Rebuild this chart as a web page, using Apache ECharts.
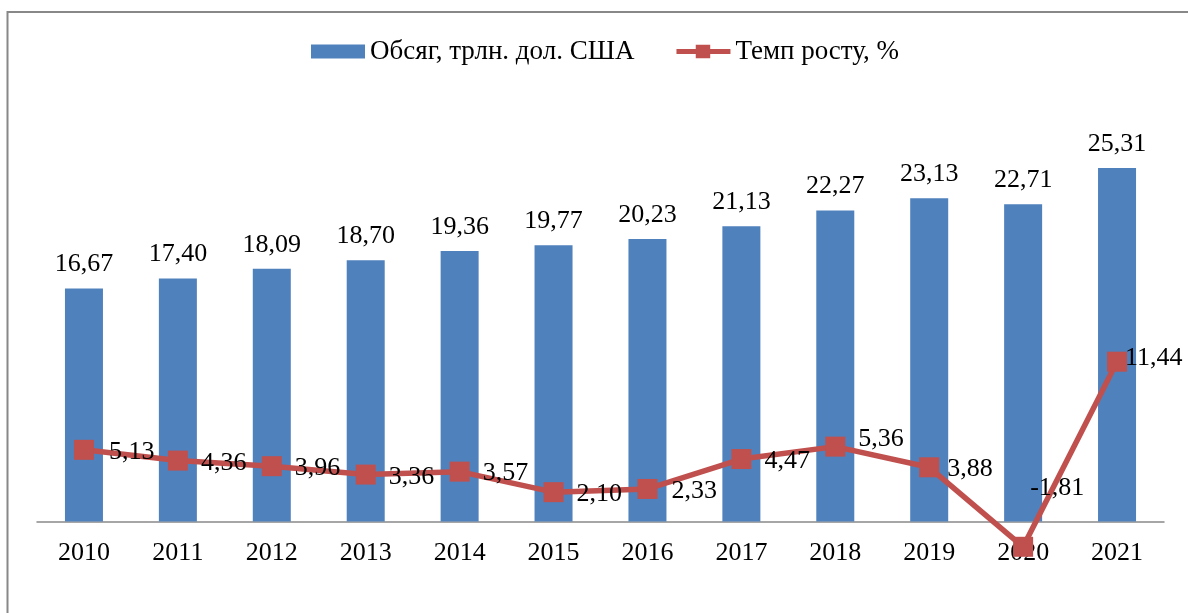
<!DOCTYPE html>
<html>
<head>
<meta charset="utf-8">
<script src="https://cdn.jsdelivr.net/npm/echarts@6/dist/echarts.min.js"></script>
<style>
  html, body { margin: 0; padding: 0; background: #fff; }
  #chart { width: 1188px; height: 613px; }
</style>
</head>
<body>
<div id="chart"></div>
<script>
// Years on the category axis
const years = ['2010', '2011', '2012', '2013', '2014', '2015', '2016', '2017', '2018', '2019', '2020', '2021'];
// Volume, trillion USD
const volume = [16.67, 17.40, 18.09, 18.70, 19.36, 19.77, 20.23, 21.13, 22.27, 23.13, 22.71, 25.31];
// Growth rate, %
const growth = [5.13, 4.36, 3.96, 3.36, 3.57, 2.10, 2.33, 4.47, 5.36, 3.88, -1.81, 11.44];

// Label shifts for the growth-rate labels (text left edge / vertical centre relative to marker centre)
const growthLabelShift = [
  [26, 2], [24, 3], [24, 2], [24, 3], [24, 2], [24, 2],
  [25, 2], [24, 2], [24, -7], [19, 2], [8, -59], [9, -4]
];

const fmt = v => v.toFixed(2).replace('.', ',');
const serif = '"Liberation Serif", "Times New Roman", serif';
const markerHalf = 10;

// Legend glyph for the line series: thick line with a square marker
const lineLegendIcon = 'path://M0,4.5H20V0H35V4.5H56V9.5H35V14H20V9.5H0Z';

const chart = echarts.init(document.getElementById('chart'), null, { renderer: 'canvas' });

chart.setOption({
  animation: false,
  backgroundColor: '#ffffff',
  textStyle: { fontFamily: serif },
  graphic: [{
    type: 'rect',
    shape: { x: 7.5, y: 12, width: 1300, height: 700 },
    style: { fill: 'none', stroke: '#888888', lineWidth: 2 },
    silent: true,
    z: -10
  }],
  legend: {
    left: 311, top: 38, padding: 0,
    itemWidth: 54, itemHeight: 14, itemGap: 42,
    textStyle: { fontFamily: serif, fontSize: 27, color: '#000' },
    data: [
      { name: 'Обсяг, трлн. дол. США', icon: 'rect' },
      { name: 'Темп росту, %', icon: lineLegendIcon, itemStyle: { color: '#C0504D' } }
    ]
  },
  grid: {
    left: 37, right: 24, top: 102.4, bottom: 91.5,
    containLabel: false, outerBoundsMode: 'none'
  },
  xAxis: {
    type: 'category',
    data: years,
    boundaryGap: true,
    axisLine: { lineStyle: { color: '#898989', width: 1.5 } },
    axisTick: { show: false },
    axisLabel: { fontFamily: serif, fontSize: 26, color: '#000', margin: 19 }
  },
  yAxis: {
    type: 'value',
    min: 0, max: 30,
    show: false,
    splitLine: { show: false }
  },
  series: [
    {
      name: 'Обсяг, трлн. дол. США',
      type: 'bar',
      data: volume,
      barWidth: 38,
      itemStyle: { color: '#4F81BD' },
      label: {
        show: true, position: 'top', distance: 11,
        fontFamily: serif, fontSize: 26, color: '#000',
        formatter: p => fmt(p.value)
      },
      z: 2
    },
    {
      name: 'Темп росту, %',
      type: 'line',
      clip: false,
      data: growth.map((v, i) => ({
        value: v,
        label: {
          offset: [growthLabelShift[i][0] - markerHalf - 1, growthLabelShift[i][1]]
        }
      })),
      symbol: 'rect',
      symbolSize: 20,
      lineStyle: { color: '#C0504D', width: 5.5 },
      itemStyle: { color: '#C0504D' },
      label: {
        show: true, position: 'right', distance: 0,
        fontFamily: serif, fontSize: 26, color: '#000',
        formatter: p => fmt(p.value)
      },
      z: 3
    }
  ]
});
</script>
</body>
</html>
